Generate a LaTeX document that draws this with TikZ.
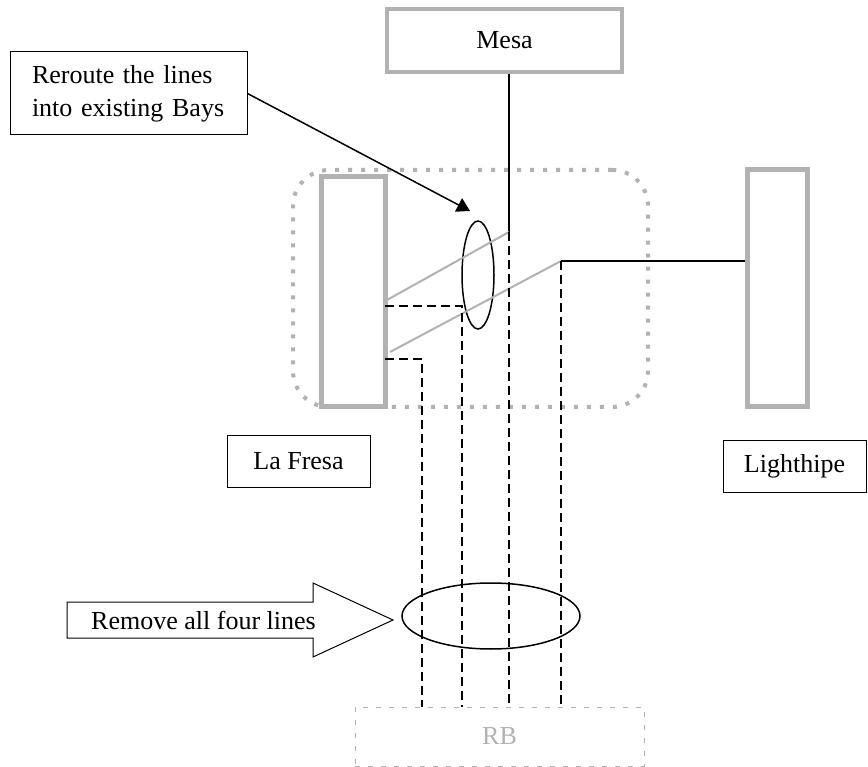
\documentclass[tikz,border=0pt]{standalone}
\usepackage{fontspec}
\setmainfont{Liberation Serif}
\usetikzlibrary{arrows.meta,shapes.geometric}
\begin{document}
\begin{tikzpicture}[x=1pt,y=-1pt,
  txt/.style={font=\fontsize{26}{33}\selectfont},
  lbl/.style={txt,draw=black,line width=1pt,inner sep=0pt},
  bar/.style={draw=gray!60,line width=5pt,inner sep=0pt},
  dsh/.style={line width=2pt,dash pattern=on 9pt off 5pt},
  blk/.style={line width=2pt},
  gline/.style={gray!60,line width=2pt},
  oval/.style={ellipse,draw,line width=1.5pt,inner sep=0pt}
]
\useasboundingbox (0,0) rectangle (868,767);
% region
\node[draw=gray!60,line width=4pt,dash pattern=on 4pt off 9pt,rounded corners=36pt,
      minimum width=355pt,minimum height=237pt,inner sep=0pt] (region) at (470.5,288.5) {};
% boxes
\node[lbl,draw=gray!60,line width=4pt,minimum width=235pt,minimum height=63pt] (mesa) at (504.5,40.5) {Mesa};
\node[lbl,text width=193pt,align=left,inner xsep=22pt,minimum height=83pt] (callout) at (128.5,93.5) {Reroute the lines\\into existing Bays};
\node[bar,minimum width=64pt,minimum height=230pt] (lfbar) at (353,292) {};
\node[bar,minimum width=60pt,minimum height=237pt] (lhbar) at (777,288.5) {};
\node[oval,minimum width=32pt,minimum height=108pt] (ellS) at (478,275) {};
\node[lbl,minimum width=143pt,minimum height=52pt] (lafresa) at (298.5,461) {La Fresa};
\node[lbl,minimum width=143pt,minimum height=52pt] (lighthipe) at (794.5,466) {Lighthipe};
\node[oval,minimum width=178pt,minimum height=66pt] (ellB) at (491,616) {};
\node[txt,draw=gray!60,line width=1pt,dash pattern=on 5pt off 8pt,text=gray!60,
      minimum width=289pt,minimum height=59pt,inner sep=0pt] (rb) at (499.5,736.5) {RB};
% big arrow
\coordinate (btip) at (393,620);
\draw[line width=1pt] (67,602) -- (313,602) -- (313,583) -- (btip) -- (313,657) -- (313,638) -- (67,638) -- cycle;
\node[txt,inner sep=0pt] (remove) at (203.5,620) {Remove all four lines};
% callout arrow
\coordinate (atip) at (470,211);
\draw[line width=1.5pt,-{Triangle[length=13pt,width=15pt]}] (callout.east) -- (atip);
% lines
\coordinate (m1) at (509,232);
\coordinate (h1) at (561,261);
\coordinate (g1) at (387,300);
\coordinate (g2) at (390,352);
\coordinate (d1) at (385,306);
\coordinate (d2) at (385,359);
\coordinate (x1) at (462,0);
\coordinate (x2) at (422,0);
\draw[blk] (m1 |- mesa.south) -- (m1);
\draw[blk] (h1) -- (h1 -| lhbar.west);
\draw[gline] (g1) -- (m1);
\draw[gline] (g2) -- (h1);
\draw[dsh] (d1) -| (x1 |- rb.north);
\draw[dsh] (d2) -| (x2 |- rb.north);
\draw[dsh] (m1) -- (m1 |- rb.north);
\draw[dsh] (h1) -- (h1 |- rb.north);
\end{tikzpicture}
\end{document}
